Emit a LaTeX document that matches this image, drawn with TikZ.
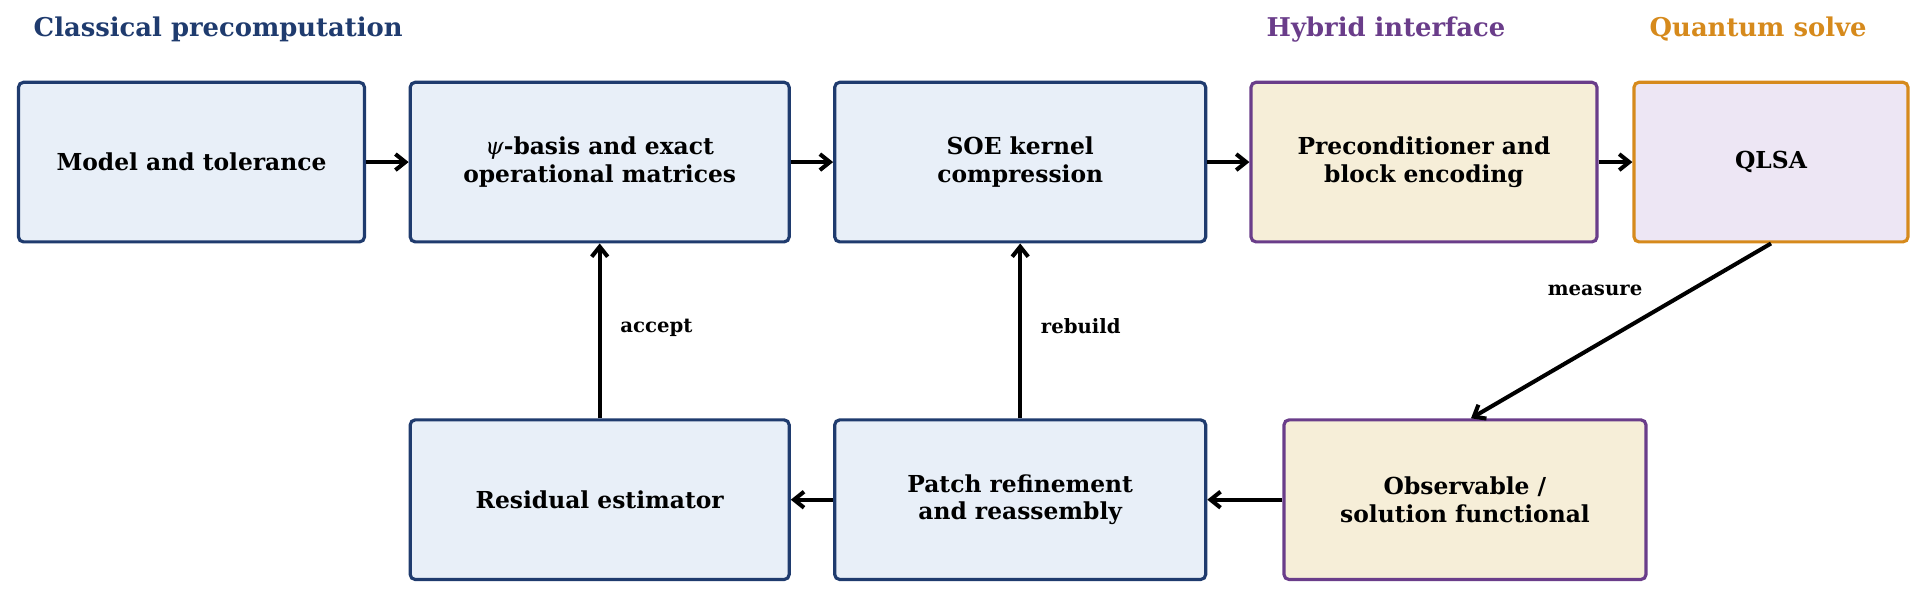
\documentclass[tikz,border=0pt]{standalone}
\usepackage{fontspec}
\setmainfont{DejaVu Serif}
\usepackage{xcolor}
\usepackage{tikz}
\usetikzlibrary{positioning, arrows.meta, calc}

\definecolor{clsborder}{HTML}{1F3B6E}
\definecolor{clsfill}{HTML}{E8EFF8}
\definecolor{hybborder}{HTML}{6A3D8A}
\definecolor{hybfill}{HTML}{F6EED8}
\definecolor{qborder}{HTML}{D68A1C}
\definecolor{qfill}{HTML}{EDE6F4}

\tikzset{
    block/.style={draw, rounded corners=0.05cm, line width=0.9pt, align=center,
        minimum height=1.596cm, inner sep=0pt, font=\fontsize{6.65}{7.8}\selectfont\bfseries},
    classical/.style={block, draw=clsborder, fill=clsfill},
    hybrid/.style={block, draw=hybborder, fill=hybfill},
    quantum/.style={block, draw=qborder, fill=qfill},
    flow/.style={line width=1.15pt, -{Straight Barb[length=1.0mm, width=1.6mm]}},
    steplabel/.style={font=\fontsize{5.6}{7}\selectfont\bfseries},
    stagetitle/.style={font=\fontsize{7.35}{9}\selectfont\bfseries, anchor=west, inner sep=0pt}
}

\begin{document}
\begin{tikzpicture}
    \useasboundingbox (0,0) rectangle (19.25,-5.98);

    % Stage titles
    \node[stagetitle, text=clsborder] (tcls) at (0.33,-0.295) {Classical precomputation};
    \node[stagetitle, text=hybborder] (thyb) at (12.66,-0.295) {Hybrid interface};
    \node[stagetitle, text=qborder] (tq) at (16.49,-0.295) {Quantum solve};

    % Top row
    \node[classical, minimum width=3.46cm] (model) at (1.915,-1.621) {Model and tolerance};
    \node[classical, minimum width=3.79cm] (basis) at (5.997,-1.621) {{\mdseries\itshape ψ}-basis and exact\\operational matrices};
    \node[classical, minimum width=3.71cm] (soe) at (10.202,-1.621) {SOE kernel\\compression};
    \node[hybrid, minimum width=3.46cm] (precond) at (14.24,-1.621) {Preconditioner and\\block encoding};
    \node[quantum, minimum width=2.74cm] (qlsa) at (17.71,-1.621) {QLSA};

    % Bottom row
    \node[classical, minimum width=3.79cm] (resid) at (5.997,-4.997) {Residual estimator};
    \node[classical, minimum width=3.71cm] (patch) at (10.202,-4.997) {Patch refinement\\and reassembly};
    \node[hybrid, minimum width=3.62cm] (obs) at (14.65,-4.997) {Observable /\\solution functional};

    % Arrows
    \draw[flow] (model) -- (basis);
    \draw[flow] (basis) -- (soe);
    \draw[flow] (soe) -- (precond);
    \draw[flow] (precond) -- (qlsa);
    \draw[flow] (qlsa.south) -- node[steplabel, pos=0.27, left=0.34cm] {measure} ($(obs.north)+(0.06,0)$);
    \draw[flow] (obs) -- (patch);
    \draw[flow] (patch) -- (resid);
    \draw[flow] (patch.north) -- node[steplabel, right=0.07cm, yshift=0.05cm] {rebuild} (soe.south);
    \draw[flow] (resid.north) -- node[steplabel, right=0.07cm, yshift=0.03cm] {accept} (basis.south);
\end{tikzpicture}
\end{document}
